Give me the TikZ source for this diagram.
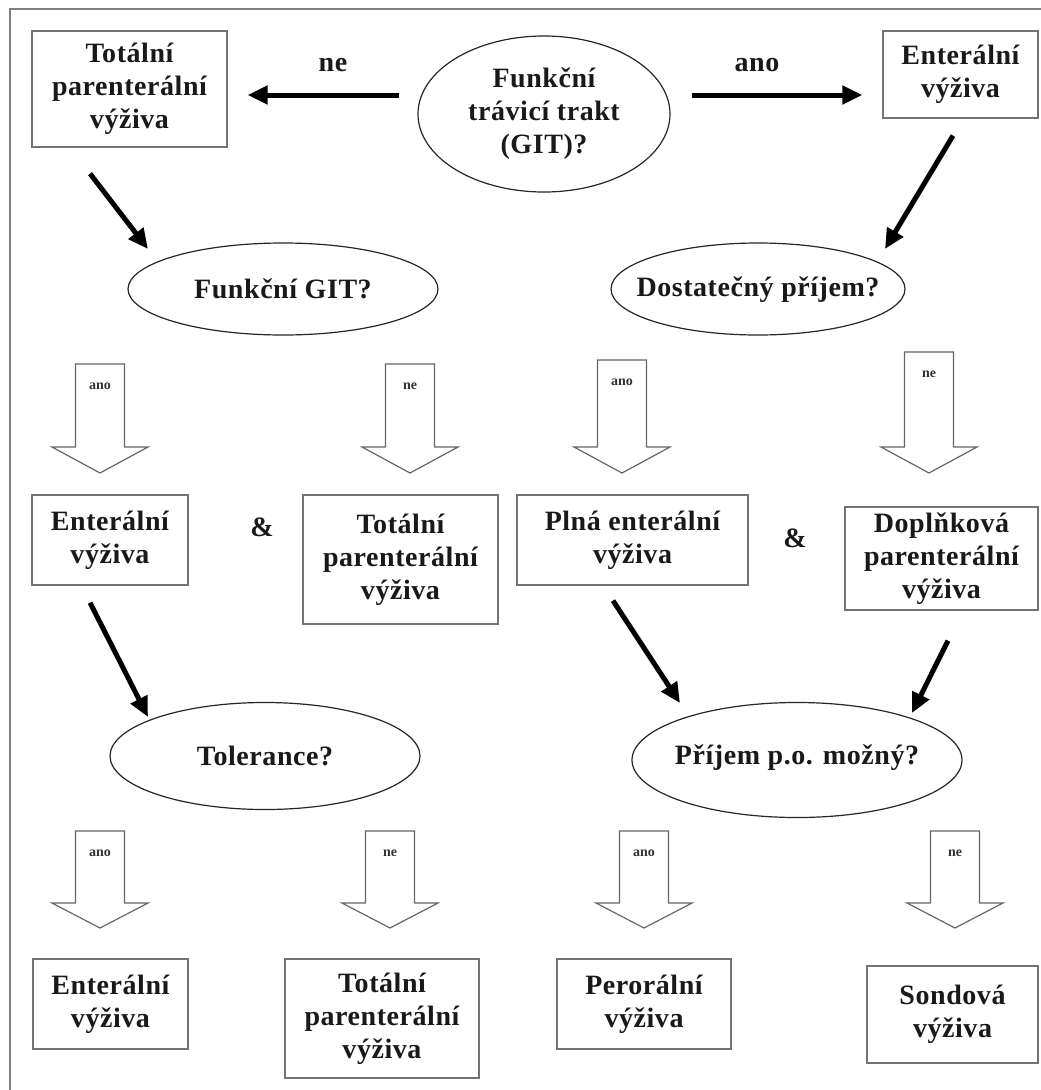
\documentclass[tikz,border=0pt]{standalone}
\usepackage{fontspec}
\setmainfont{Liberation Serif}
\usetikzlibrary{shapes.geometric,arrows.meta,calc}
\newcommand{\mainfnt}{\fontsize{28}{33}\selectfont\bfseries\addfontfeature{LetterSpace=2}}
\newcommand{\smallfnt}{\fontsize{14}{16}\selectfont\bfseries}
\newcommand{\hollowarrow}[6]{%
  \draw[hol] (#2-24.5,#3) -- (#2+24.5,#3) -- (#2+24.5,#4) -- (#2+48,#4) -- (#2,#5) -- (#2-48,#4) -- (#2-24.5,#4) -- cycle;
  \node[lbl] (#1) at (#2,#3+22) {#6};
}
\begin{document}
\begin{tikzpicture}[x=1pt,y=-1pt,
  box/.style={draw=black!55, line width=1.3pt, align=center, inner sep=0pt, font=\mainfnt, text=black!90},
  oval/.style={ellipse, draw=black!85, line width=1.2pt, inner sep=0pt},
  conn/.style={line width=5pt, -{Triangle[length=20pt,width=18pt]}},
  hol/.style={draw=black!60, line width=1.2pt, fill=white, line join=miter},
  lbl/.style={font=\smallfnt, text=black!80, inner sep=0pt},
  txt/.style={font=\mainfnt, text=black!90, inner sep=0pt, align=center},
]
\useasboundingbox (0,0) rectangle (1041,1090);
\fill[white] (0,0) rectangle (1041,1090);
% frame (top and left edges)
\draw[black!50, line width=1.5pt] (10,1090) -- (10,9) -- (1041,9);

% top row
\node[box, minimum width=195pt, minimum height=116pt] (tpv1) at (129.5,89) {Totální\\parenterální\\výživa};
\node[oval, minimum width=252pt, minimum height=156pt] (e1) at (544,114) {};
\node[txt] (e1t) at (e1.center) {Funkční\\trávicí trakt\\(GIT)?};
\node[box, minimum width=155pt, minimum height=87pt] (ev1) at (960.5,74.5) {Enterální\\výživa};
\node[txt] (ne0) at (333,65) {ne};
\node[txt] (ano0) at (757,65) {ano};

\draw[conn] ($(e1.west)+(-18,-19)$) -- ($(tpv1.east)+(20,6)$);
\draw[conn] ($(e1.east)+(21,-19)$) -- ($(ev1.west)+(-20,20.5)$);

% second level ellipses
\node[oval, minimum width=310pt, minimum height=92pt] (e2) at (283,289) {};
\node[txt] (e2t) at (e2.center) {Funkční GIT?};
\node[oval, minimum width=294pt, minimum height=92pt] (e3) at (758,289) {};
\node[txt] (e3t) at ($(e3.center)+(0,1)$) {Dostatečný příjem?};
\draw[conn] ($(tpv1.south)+(-39.5,26)$) -- ($(e2.center)+(-135,-40)$);
\draw[conn] ($(ev1.south)+(-7.5,17)$) -- ($(e3.center)+(127,-40)$);

% hollow arrows row 1
\hollowarrow{a1}{100}{364}{447}{473}{ano}
\hollowarrow{a2}{410}{364}{447}{473}{ne}
\hollowarrow{a3}{622}{360}{447}{473}{ano}
\hollowarrow{a4}{929}{352}{447}{473}{ne}

% middle boxes
\node[box, minimum width=156pt, minimum height=90pt] (ev2) at (110,540) {Enterální\\výživa};
\node[txt] (amp1) at (262,527) {\&};
\node[box, minimum width=195pt, minimum height=129pt] (tpv2) at (400.5,559.5) {Totální\\parenterální\\výživa};
\node[box, minimum width=231pt, minimum height=90pt] (pev) at (632.5,540) {Plná enterální\\výživa};
\node[txt] (amp2) at (795,538) {\&};
\node[box, minimum width=193pt, minimum height=103pt] (dpv) at (941.5,558.5) {Doplňková\\parenterální\\výživa};

% third level ellipses
\node[oval, minimum width=310pt, minimum height=107pt] (e4) at (265,756) {};
\node[txt] (e4t) at (e4.center) {Tolerance?};
\node[oval, minimum width=330pt, minimum height=115pt] (e5) at (797,760) {};
\node[txt] (e5t) at ($(e5.center)+(0,-2)$) {Příjem p.o. možný?};
\draw[conn] ($(ev2.south)+(-20,17)$) -- ($(e4.center)+(-117,-39)$);
\draw[conn] ($(pev.south)+(-19.5,15)$) -- ($(e5.center)+(-117,-57)$);
\draw[conn] ($(dpv.south)+(6.5,30)$) -- ($(e5.center)+(115,-47)$);

% hollow arrows row 2
\hollowarrow{b1}{100}{831}{903}{928}{ano}
\hollowarrow{b2}{390}{831}{903}{928}{ne}
\hollowarrow{b3}{644}{831}{903}{928}{ano}
\hollowarrow{b4}{955}{831}{903}{928}{ne}

% bottom boxes
\node[box, minimum width=155pt, minimum height=90pt] (ev3) at (110.5,1004) {Enterální\\výživa};
\node[box, minimum width=194pt, minimum height=119pt] (tpv3) at (382,1018.5) {Totální\\parenterální\\výživa};
\node[box, minimum width=174pt, minimum height=90pt] (pv) at (644,1004) {Perorální\\výživa};
\node[box, minimum width=171pt, minimum height=97pt] (sv) at (952.5,1014.5) {Sondová\\výživa};
\end{tikzpicture}
\end{document}
